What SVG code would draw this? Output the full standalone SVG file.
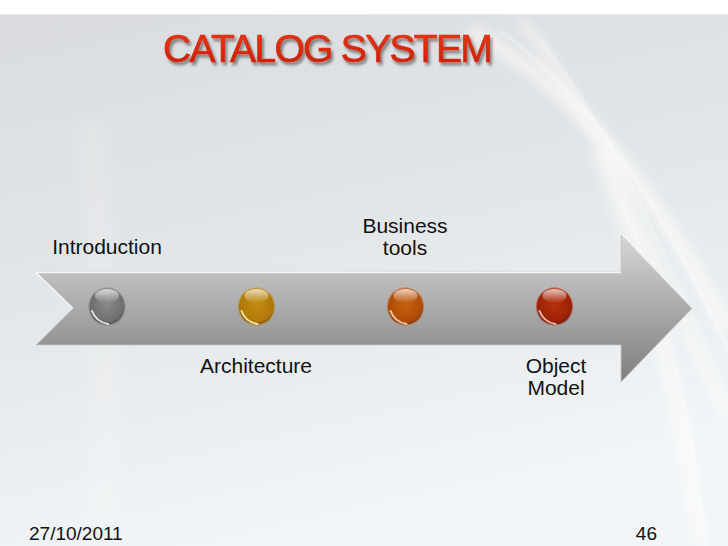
<svg xmlns="http://www.w3.org/2000/svg" width="728" height="546" viewBox="0 0 728 546">
  <defs>
    <linearGradient id="bg" x1="0" y1="0" x2="0.3" y2="1">
      <stop offset="0" stop-color="#d9dbde"/>
      <stop offset="0.5" stop-color="#e3e6e8"/>
      <stop offset="1" stop-color="#f2f5f7"/>
    </linearGradient>
    <linearGradient id="arrowFill" x1="0" y1="0" x2="0" y2="1">
      <stop offset="0" stop-color="#d6d6d6"/>
      <stop offset="0.5" stop-color="#aaaaaa"/>
      <stop offset="1" stop-color="#7e7e7e"/>
    </linearGradient>
    <linearGradient id="titleFill" x1="0" y1="0" x2="0" y2="1">
      <stop offset="0" stop-color="#ee3a18"/>
      <stop offset="1" stop-color="#c41c06"/>
    </linearGradient>
    <radialGradient id="gGray" cx="0.5" cy="0.45" r="0.55">
      <stop offset="0" stop-color="#8a8a8a"/>
      <stop offset="0.8" stop-color="#6e6e6e"/>
      <stop offset="1" stop-color="#4a4a4a"/>
    </radialGradient>
    <radialGradient id="gGold" cx="0.5" cy="0.45" r="0.55">
      <stop offset="0" stop-color="#c48c10"/>
      <stop offset="0.8" stop-color="#b07808"/>
      <stop offset="1" stop-color="#7a5004"/>
    </radialGradient>
    <radialGradient id="gOrange" cx="0.5" cy="0.45" r="0.55">
      <stop offset="0" stop-color="#c8600e"/>
      <stop offset="0.8" stop-color="#b04c08"/>
      <stop offset="1" stop-color="#7a3004"/>
    </radialGradient>
    <radialGradient id="gRed" cx="0.5" cy="0.45" r="0.55">
      <stop offset="0" stop-color="#b8300c"/>
      <stop offset="0.8" stop-color="#9c2206"/>
      <stop offset="1" stop-color="#6a1402"/>
    </radialGradient>
    <linearGradient id="shine" x1="0" y1="0" x2="0" y2="1">
      <stop offset="0" stop-color="#ffffff" stop-opacity="0.75"/>
      <stop offset="1" stop-color="#ffffff" stop-opacity="0"/>
    </linearGradient>
    <filter id="blur6" x="-20%" y="-20%" width="140%" height="140%">
      <feGaussianBlur stdDeviation="6"/>
    </filter>
    <filter id="blur2" x="-20%" y="-20%" width="140%" height="140%">
      <feGaussianBlur stdDeviation="1.5"/>
    </filter>
    <filter id="tshadow" x="-10%" y="-30%" width="120%" height="160%">
      <feGaussianBlur in="SourceAlpha" stdDeviation="1.5"/>
      <feOffset dx="2" dy="3" result="o"/>
      <feFlood flood-color="#000" flood-opacity="0.45"/>
      <feComposite in2="o" operator="in"/>
      <feMerge><feMergeNode/><feMergeNode in="SourceGraphic"/></feMerge>
    </filter>
  </defs>
  <style>
    .lbl { font-family: "Liberation Sans", Arial, sans-serif; font-size: 21px; fill: #111; }
    .foot { font-family: "Liberation Sans", Arial, sans-serif; font-size: 19px; fill: #111; }
    .title { font-family: "Liberation Sans", Arial, sans-serif; font-size: 39px; letter-spacing: -1.7px; fill: url(#titleFill); stroke: #d42a0e; stroke-width: 0.7px; }
    .rim { fill: none; stroke: #ffffff; stroke-opacity: 0.35; stroke-width: 1; }
  </style>

  <!-- background -->
  <rect x="0" y="0" width="728" height="546" fill="url(#bg)"/>
  <rect x="0" y="0" width="728" height="14" fill="#ffffff"/>
  <line x1="0" y1="14.5" x2="728" y2="14.5" stroke="#e8e8e8" stroke-width="1"/>
  <g fill="none" stroke="#ffffff" filter="url(#blur6)">
    <path d="M470,30 C560,80 640,160 728,330" stroke-width="14" stroke-opacity="0.55"/>
    <path d="M520,20 C600,120 650,250 728,420" stroke-width="10" stroke-opacity="0.5"/>
    <path d="M600,150 C640,260 680,380 700,546" stroke-width="18" stroke-opacity="0.4"/>
    <path d="M90,120 C100,250 110,380 100,520" stroke-width="30" stroke-opacity="0.12"/>
  </g>
  <g fill="none" stroke="#ffffff" filter="url(#blur2)" stroke-opacity="0.6">
    <path d="M500,30 C580,90 650,180 728,350" stroke-width="2"/>
    <path d="M540,40 C610,130 660,240 728,400" stroke-width="1.5"/>
    <path d="M620,200 C660,290 690,400 705,546" stroke-width="2"/>
  </g>

  <!-- title -->
  <text class="title" x="163" y="61.5" filter="url(#tshadow)">CATALOG SYSTEM</text>

  <!-- connectors: timeline arrow -->
  <g id="connectors">
    <path d="M36,272 L621,272 L621,235 L692,308.5 L621,382 L621,345 L36,345 L73,308.5 Z" fill="url(#arrowFill)" stroke="#c8c8c8" stroke-width="0.8"/>
    <path d="M36,272.5 L621,272.5 M36,272.5 L73,308.5" stroke="#ffffff" stroke-width="1.5" stroke-opacity="0.8" fill="none"/>
  </g>

  <!-- nodes -->
  <g id="introduction">
    <ellipse cx="107" cy="306.5" rx="18.5" ry="19" fill="url(#gGray)"/>
    <ellipse class="rim" cx="107" cy="306.5" rx="18" ry="18.5"/>
    <ellipse cx="107" cy="296" rx="12" ry="7" fill="url(#shine)"/>
    <path d="M92,311 Q96,322 108,324" fill="none" stroke="#ffffff" stroke-width="2" stroke-opacity="0.8" stroke-linecap="round"/>
    <text class="lbl" x="107" y="254" text-anchor="middle">Introduction</text>
  </g>
  <g id="architecture">
    <ellipse cx="256.5" cy="306.5" rx="18.5" ry="19" fill="url(#gGold)"/>
    <ellipse class="rim" cx="256.5" cy="306.5" rx="18" ry="18.5"/>
    <ellipse cx="256.5" cy="296" rx="12" ry="7" fill="url(#shine)"/>
    <path d="M241.5,311 Q245.5,322 257.5,324" fill="none" stroke="#fff4c0" stroke-width="2" stroke-opacity="0.85" stroke-linecap="round"/>
    <text class="lbl" x="256" y="373" text-anchor="middle">Architecture</text>
  </g>
  <g id="business-tools">
    <ellipse cx="405.5" cy="306.5" rx="18.5" ry="19" fill="url(#gOrange)"/>
    <ellipse class="rim" cx="405.5" cy="306.5" rx="18" ry="18.5"/>
    <ellipse cx="405.5" cy="296" rx="12" ry="7" fill="url(#shine)"/>
    <path d="M390.5,311 Q394.5,322 406.5,324" fill="none" stroke="#ffe0c0" stroke-width="2" stroke-opacity="0.85" stroke-linecap="round"/>
    <text class="lbl" x="405" y="233" text-anchor="middle">Business</text>
    <text class="lbl" x="405" y="255" text-anchor="middle">tools</text>
  </g>
  <g id="object-model">
    <ellipse cx="554.5" cy="306.5" rx="18.5" ry="19" fill="url(#gRed)"/>
    <ellipse class="rim" cx="554.5" cy="306.5" rx="18" ry="18.5"/>
    <ellipse cx="554.5" cy="296" rx="12" ry="7" fill="url(#shine)"/>
    <path d="M539.5,311 Q543.5,322 555.5,324" fill="none" stroke="#ffd0c0" stroke-width="2" stroke-opacity="0.85" stroke-linecap="round"/>
    <text class="lbl" x="556" y="373" text-anchor="middle">Object</text>
    <text class="lbl" x="556" y="395" text-anchor="middle">Model</text>
  </g>

  <!-- footer -->
  <text class="foot" x="29" y="539.5">27/10/2011</text>
  <text class="foot" x="657" y="539.5" text-anchor="end">46</text>
</svg>
